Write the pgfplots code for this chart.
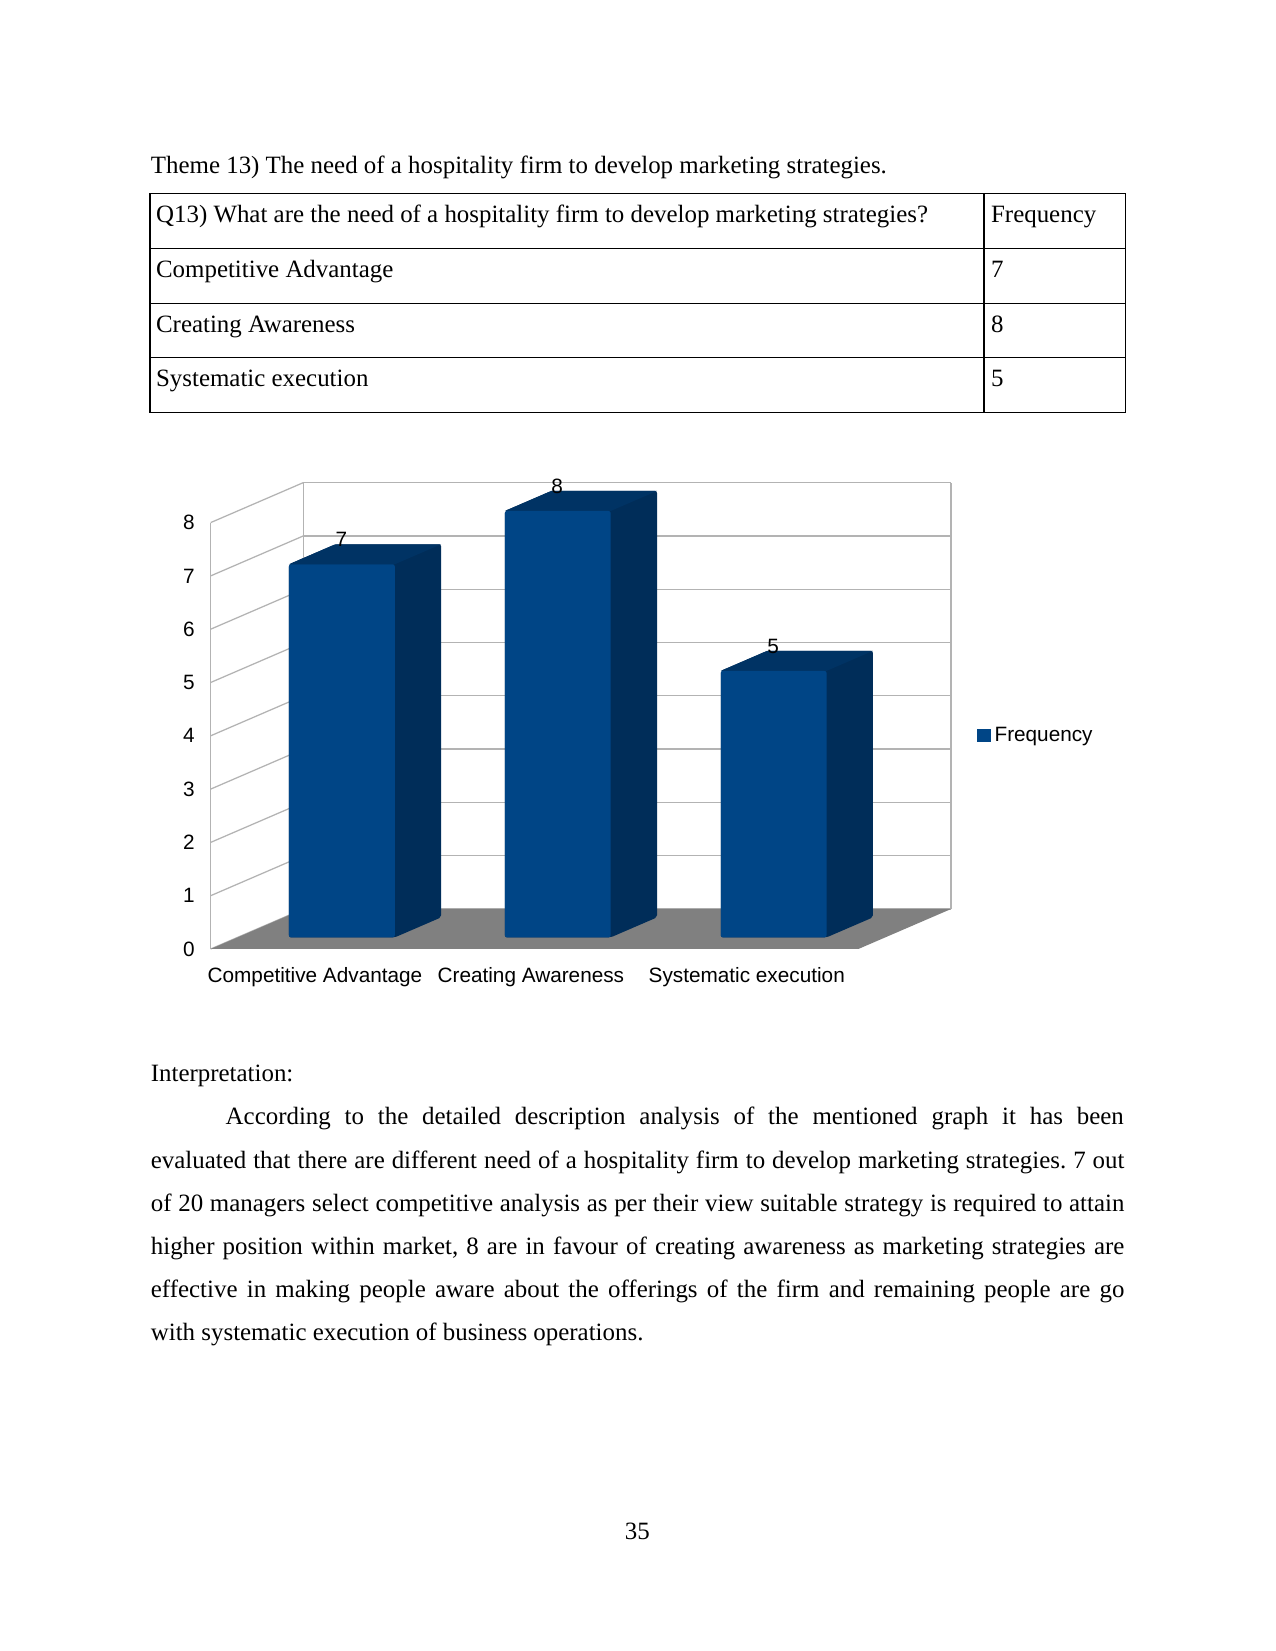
\documentclass[border=0pt]{standalone}
\usepackage{fontspec}
\setmainfont{Liberation Serif}
\newfontfamily\chartfont{Liberation Sans}
\usepackage{pgfplots}
\usepackage{pgfplotstable}
\pgfplotsset{compat=1.18}
\definecolor{cFront}{HTML}{004586}
\definecolor{cSide}{HTML}{002D59}
\definecolor{cTop}{HTML}{003364}
\definecolor{cFloor}{HTML}{808080}
\definecolor{cGrid}{HTML}{B3B3B3}
\pgfplotsset{table/proj/.style={row sep=\\, x expr=\thisrow{x}+0.4294*\thisrow{d}, y expr=\thisrow{z}+0.7505*\thisrow{d}}}
\pgfplotstableread{
c v
0 7
1 8
2 5
}\bardata
\newcommand\bodyfont{\fontsize{12}{14.4}\selectfont}
\newcommand\cfont{\chartfont\fontsize{10}{12}\selectfont}
\frenchspacing

\begin{document}
\begin{tikzpicture}
\begin{scope}[x=0.4818pt,y=0.4818pt]
\fill[white] (0,0) rectangle (1275,1651);
\node[anchor=base west, inner sep=0, font=\bodyfont] at (150.5,1477.2) {Theme 13) The need of a hospitality firm to develop marketing strategies.};
% table
\draw[line width=0.5pt] (150,1457.2) rectangle (1125.4,1238.7);
\draw[line width=0.5pt] (150,1402.7) -- (1125.4,1402.7);
\draw[line width=0.5pt] (150,1347.7) -- (1125.4,1347.7);
\draw[line width=0.5pt] (150,1293.7) -- (1125.4,1293.7);
\draw[line width=0.5pt] (984,1457.2) -- (984,1238.7);
\node[anchor=base west, inner sep=0, font=\bodyfont] at (155.7,1428.3) {Q13) What are the need of a hospitality firm to develop marketing strategies?};
\node[anchor=base west, inner sep=0, font=\bodyfont] at (990.7,1428.3) {Frequency};
\node[anchor=base west, inner sep=0, font=\bodyfont] at (155.7,1373.3) {Competitive Advantage};
\node[anchor=base west, inner sep=0, font=\bodyfont] at (990.7,1373.3) {7};
\node[anchor=base west, inner sep=0, font=\bodyfont] at (155.7,1318.3) {Creating Awareness};
\node[anchor=base west, inner sep=0, font=\bodyfont] at (990.7,1318.3) {8};
\node[anchor=base west, inner sep=0, font=\bodyfont] at (155.7,1264) {Systematic execution};
\node[anchor=base west, inner sep=0, font=\bodyfont] at (990.7,1264) {5};
% interpretation
\node[anchor=base west, inner sep=0, font=\bodyfont] at (150.5,569.3) {Interpretation:};
\node[anchor=base west, inner sep=0, font=\bodyfont] at (225.3,526) {\makebox[432.7pt][s]{According to the detailed description analysis of the mentioned graph it has been}};
\node[anchor=base west, inner sep=0, font=\bodyfont] at (150.5,482.8) {\makebox[469.0pt][s]{evaluated that there are different need of a hospitality firm to develop marketing strategies. 7 out}};
\node[anchor=base west, inner sep=0, font=\bodyfont] at (150.5,439.6) {\makebox[469.0pt][s]{of 20 managers select competitive analysis as per their view suitable strategy is required to attain}};
\node[anchor=base west, inner sep=0, font=\bodyfont] at (150.5,396.4) {\makebox[469.0pt][s]{higher position within market, 8 are in favour of creating awareness as marketing strategies are}};
\node[anchor=base west, inner sep=0, font=\bodyfont] at (150.5,353.2) {\makebox[469.0pt][s]{effective in making people aware about the offerings of the firm and remaining people are go}};
\node[anchor=base west, inner sep=0, font=\bodyfont] at (150.5,310) {with systematic execution of business operations.};
\node[anchor=base, inner sep=0, font=\bodyfont] at (637.3,111.7) {35};
\end{scope}

\begin{axis}[
  at={(101.51pt,338.22pt)}, anchor=south west,
  scale only axis, width=356.72pt, height=224.71pt,
  xmin=0, xmax=3.4294, ymin=0, ymax=8.7505,
  axis lines=left, axis line style={draw=none,-},
  major tick length=0pt, tick style={draw=none},
  ytick={0,...,8}, xtick={0.483,1.483,2.483},
  xticklabels={Competitive Advantage,Creating Awareness,Systematic execution},
  tick label style={font=\cfont, text=black},
  yticklabel style={anchor=east, inner sep=0pt, xshift=-7.56pt},
  xticklabel style={anchor=north, inner sep=0pt, yshift=-8.5pt},
  /pgf/number format/assume math mode=true,
  clip=false,
  legend style={at={(1.0346,0.4578)}, anchor=west, draw=none, fill=none, inner sep=0pt, font=\cfont},
  legend cell align=left,
]
\addlegendimage{legend image code/.code={\fill[cFront] (0pt,-3pt) rectangle (6pt,3pt);}}
\addlegendentry{Frequency}
\pgfplotsinvokeforeach{0,...,8}{
  \addplot[cGrid, line width=0.6pt, forget plot] table[proj] {x d z\\ 0 1 #1\\ 3 1 #1\\};
  \addplot[cGrid, line width=0.6pt, forget plot] table[proj] {x d z\\ 0 0 #1\\ 0 1 #1\\};
}
\addplot[cGrid, line width=0.6pt, forget plot] table[proj] {x d z\\ 0 0 0\\ 0 0 8\\};
\addplot[cGrid, line width=0.6pt, forget plot] table[proj] {x d z\\ 0 1 0\\ 0 1 8\\};
\addplot[cGrid, line width=0.6pt, forget plot] table[proj] {x d z\\ 3 1 0\\ 3 1 8\\};
% floor
\addplot[draw=none, fill=cFloor, forget plot] table[proj] {x d z\\ 0 0 0\\ 3 0 0\\ 3 1 0\\ 0 1 0\\} -- cycle;
% bar 1 (Competitive Advantage = 7)
\addplot[draw=none, fill=cSide, rounded corners=1pt, forget plot] table[proj] {x d z\\ 0.238 0.29 0\\ 0.728 0.29 0\\ 0.728 0.79 0\\ 0.728 0.79 7\\ 0.238 0.79 7\\ 0.238 0.29 7\\} -- cycle;
\addplot[draw=none, fill=cTop, forget plot] table[proj] {x d z\\ 0.238 0.29 7\\ 0.728 0.29 7\\ 0.728 0.79 7\\ 0.238 0.79 7\\} -- cycle;
\addplot[draw=none, fill=cFront, rounded corners=1pt, forget plot] table[proj] {x d z\\ 0.238 0.29 0\\ 0.728 0.29 0\\ 0.728 0.29 7\\ 0.238 0.29 7\\} -- cycle;
% bar 2 (Creating Awareness = 8)
\addplot[draw=none, fill=cSide, rounded corners=1pt, forget plot] table[proj] {x d z\\ 1.238 0.29 0\\ 1.728 0.29 0\\ 1.728 0.79 0\\ 1.728 0.79 8\\ 1.238 0.79 8\\ 1.238 0.29 8\\} -- cycle;
\addplot[draw=none, fill=cTop, forget plot] table[proj] {x d z\\ 1.238 0.29 8\\ 1.728 0.29 8\\ 1.728 0.79 8\\ 1.238 0.79 8\\} -- cycle;
\addplot[draw=none, fill=cFront, rounded corners=1pt, forget plot] table[proj] {x d z\\ 1.238 0.29 0\\ 1.728 0.29 0\\ 1.728 0.29 8\\ 1.238 0.29 8\\} -- cycle;
% bar 3 (Systematic execution = 5)
\addplot[draw=none, fill=cSide, rounded corners=1pt, forget plot] table[proj] {x d z\\ 2.238 0.29 0\\ 2.728 0.29 0\\ 2.728 0.79 0\\ 2.728 0.79 5\\ 2.238 0.79 5\\ 2.238 0.29 5\\} -- cycle;
\addplot[draw=none, fill=cTop, forget plot] table[proj] {x d z\\ 2.238 0.29 5\\ 2.728 0.29 5\\ 2.728 0.79 5\\ 2.238 0.79 5\\} -- cycle;
\addplot[draw=none, fill=cFront, rounded corners=1pt, forget plot] table[proj] {x d z\\ 2.238 0.29 0\\ 2.728 0.29 0\\ 2.728 0.29 5\\ 2.238 0.29 5\\} -- cycle;
% value labels
\addplot[black, draw=none, mark=none, forget plot, nodes near coords, point meta=explicit,
  nodes near coords style={font=\cfont, anchor=base, inner sep=0pt, text=black}]
  table[x expr=\thisrow{c}+0.605, y expr=\thisrow{v}+0.545, meta=v] {\bardata};
\end{axis}
\end{tikzpicture}
\end{document}
